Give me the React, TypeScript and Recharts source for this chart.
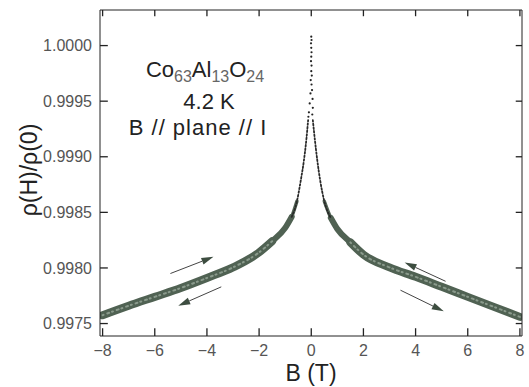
import {
  ComposedChart,
  Line,
  Scatter,
  XAxis,
  YAxis,
  ReferenceLine,
} from "recharts";

const X_TICKS = [-8, -6, -4, -2, 0, 2, 4, 6, 8];
const Y_TICKS = [0.9975, 0.998, 0.9985, 0.999, 0.9995, 1.0];
const X_DOMAIN = [-8.1, 8.08];
const Y_DOMAIN = [0.997388, 1.00032];
// inward tick length in data units (about 8 px on each axis)
const X_TICK_LEN = 0.3;
const Y_TICK_LEN = 0.00007;

const leftBranch = [
  { b: -8.0, r: 0.997575 },
  { b: -7.0, r: 0.99766 },
  { b: -6.0, r: 0.99774 },
  { b: -5.0, r: 0.99782 },
  { b: -4.0, r: 0.99791 },
  { b: -3.0, r: 0.998005 },
  { b: -2.0, r: 0.99814 },
  { b: -1.5, r: 0.99824 },
  { b: -1.0, r: 0.99836 },
  { b: -0.75, r: 0.99846 },
  { b: -0.55, r: 0.9986 },
  { b: -0.4, r: 0.99879 },
  { b: -0.28, r: 0.99897 },
  { b: -0.19, r: 0.99915 },
  { b: -0.12, r: 0.99933 },
];
const rightBranch = [
  { b: 0.06, r: 0.99933 },
  { b: 0.14, r: 0.99915 },
  { b: 0.23, r: 0.99897 },
  { b: 0.34, r: 0.99879 },
  { b: 0.5, r: 0.9986 },
  { b: 0.75, r: 0.99845 },
  { b: 1.0, r: 0.99835 },
  { b: 1.5, r: 0.99823 },
  { b: 2.0, r: 0.99812 },
  { b: 3.0, r: 0.998005 },
  { b: 4.0, r: 0.99792 },
  { b: 5.0, r: 0.99783 },
  { b: 6.0, r: 0.99774 },
  { b: 7.0, r: 0.99765 },
  { b: 8.0, r: 0.99756 },
];

// sparse points at the cusp
const cuspDots = [
  { b: 0.0, r: 1.00008 },
  { b: 0.01, r: 1.00005 },
  { b: -0.01, r: 1.00002 },
  { b: 0.0, r: 0.99998 },
  { b: 0.01, r: 0.99994 },
  { b: 0.0, r: 0.9999 },
  { b: -0.01, r: 0.99986 },
  { b: 0.01, r: 0.99982 },
  { b: 0.0, r: 0.99977 },
  { b: 0.02, r: 0.99973 },
  { b: -0.02, r: 0.99969 },
  { b: 0.01, r: 0.99965 },
  { b: 0.03, r: 0.9996 },
  { b: -0.03, r: 0.99957 },
  { b: 0.05, r: 0.99952 },
  { b: -0.06, r: 0.99948 },
  { b: 0.06, r: 0.99944 },
  { b: -0.09, r: 0.9994 },
  { b: 0.04, r: 0.99938 },
  { b: -0.11, r: 0.99936 },
];

// sweep direction arrows: [from, to]
const arrows = [
  [{ b: -5.4, r: 0.99795 }, { b: -3.75, r: 0.9981 }],
  [{ b: -3.45, r: 0.99783 }, { b: -5.1, r: 0.99766 }],
  [{ b: 5.15, r: 0.99788 }, { b: 3.58, r: 0.99805 }],
  [{ b: 3.42, r: 0.9978 }, { b: 5.08, r: 0.99761 }],
];

const FONT = "'Liberation Sans', Arial, sans-serif";
const AXIS = "#222";
const BAND = "#506253";
const TICK_STYLE = { fill: "#555", fontSize: 16, fontFamily: FONT };

type Pt = { b: number; r: number };
const within = (d: Pt[], lo: number, hi: number) =>
  d.filter((p) => Math.abs(p.b) >= lo && Math.abs(p.b) <= hi);

const fmtX = (v: number) => `${v}`.replace("-", "\u2212");

// two-point segments for the inward tick marks on all four frame sides
const tickSegments: Pt[][] = [
  ...X_TICKS.map((t) => [
    { b: t, r: Y_DOMAIN[0] },
    { b: t, r: Y_DOMAIN[0] + Y_TICK_LEN },
  ]),
  ...X_TICKS.map((t) => [
    { b: t, r: Y_DOMAIN[1] },
    { b: t, r: Y_DOMAIN[1] - Y_TICK_LEN * 0.8 },
  ]),
  ...Y_TICKS.map((t) => [
    { b: X_DOMAIN[0], r: t },
    { b: X_DOMAIN[0] + X_TICK_LEN, r: t },
  ]),
  ...Y_TICKS.map((t) => [
    { b: X_DOMAIN[1] - X_TICK_LEN * 0.8, r: t },
    { b: X_DOMAIN[1], r: t },
  ]),
];

function Arrow(props: any) {
  const { x1, y1, x2, y2 } = props;
  if (x1 == null) return null;
  const ang = Math.atan2(y2 - y1, x2 - x1);
  const len = 12;
  const w = 3.5;
  const bx = x2 - len * Math.cos(ang);
  const by = y2 - len * Math.sin(ang);
  const px = -Math.sin(ang) * w;
  const py = Math.cos(ang) * w;
  return (
    <g>
      <line x1={x1} y1={y1} x2={bx} y2={by} stroke="#444" strokeWidth={1} />
      <polygon
        points={`${x2},${y2} ${bx + px},${by + py} ${bx - px},${by - py}`}
        fill="#3d4d40"
      />
    </g>
  );
}

function seg(
  data: Pt[],
  key: string,
  stroke: string,
  width: number,
  dash?: string,
  kind: "monotone" | "linear" = "monotone",
) {
  return (
    <Line
      key={key}
      xAxisId="bottom"
      yAxisId="left"
      data={data}
      dataKey="r"
      type={kind}
      stroke={stroke}
      strokeWidth={width}
      strokeLinecap={kind === "linear" ? "butt" : "round"}
      strokeDasharray={dash}
      dot={false}
      activeDot={false}
      isAnimationActive={false}
    />
  );
}

export default function App() {
  return (
    <div style={{ position: "absolute", left: 0, top: 0, background: "#fff" }}>
      <ComposedChart
        width={529}
        height={387}
        margin={{ top: 9, right: 6, bottom: 0, left: 0 }}
      >
        <XAxis
          xAxisId="bottom"
          dataKey="b"
          type="number"
          domain={X_DOMAIN}
          ticks={X_TICKS}
          tickFormatter={fmtX}
          allowDataOverflow
          interval={0}
          height={51}
          tickLine={false}
          tickSize={0}
          tickMargin={9}
          stroke={AXIS}
          tick={TICK_STYLE}
        />
        <XAxis
          xAxisId="top"
          orientation="top"
          dataKey="b"
          type="number"
          domain={X_DOMAIN}
          allowDataOverflow
          height={1}
          tick={false}
          tickLine={false}
          stroke={AXIS}
        />
        <YAxis
          yAxisId="left"
          dataKey="r"
          type="number"
          domain={Y_DOMAIN}
          ticks={Y_TICKS}
          tickFormatter={(v: number) => v.toFixed(4)}
          allowDataOverflow
          interval={0}
          width={100}
          tickLine={false}
          tickSize={0}
          tickMargin={8}
          stroke={AXIS}
          tick={TICK_STYLE}
        />
        <YAxis
          yAxisId="right"
          orientation="right"
          dataKey="r"
          type="number"
          domain={Y_DOMAIN}
          allowDataOverflow
          width={1}
          tick={false}
          tickLine={false}
          stroke={AXIS}
        />

        {tickSegments.map((s, i) => seg(s, `tk${i}`, AXIS, 1.3, undefined, "linear"))}

        {seg(within(leftBranch, 1.5, 9), "lo", BAND, 8)}
        {seg(within(rightBranch, 1.5, 9), "ro", BAND, 8)}
        {seg(within(leftBranch, 0.75, 2), "lm", BAND, 6)}
        {seg(within(rightBranch, 0.75, 2), "rm", BAND, 6)}
        {seg(within(leftBranch, 0.55, 1), "ln", BAND, 3.5)}
        {seg(within(rightBranch, 0.5, 1), "rn", BAND, 3.5)}
        {seg(within(leftBranch, 1.5, 9), "so", "#8a9a8c", 2, "1 4 2 3")}
        {seg(within(rightBranch, 1.5, 9), "sr", "#8a9a8c", 2, "1 4 2 3")}
        {seg(within(leftBranch, 0, 0.75), "lc", "#2a2a2a", 1.8, "1.6 2")}
        {seg(within(rightBranch, 0, 0.75), "rc", "#2a2a2a", 1.8, "1.6 2")}
        <Scatter
          xAxisId="bottom"
          yAxisId="left"
          data={cuspDots}
          fill="#222"
          shape={(p: any) => <circle cx={p.cx} cy={p.cy} r={1.1} fill="#222" />}
          isAnimationActive={false}
        />

        {arrows.map((a, i) => (
          <ReferenceLine
            key={`ar${i}`}
            xAxisId="bottom"
            yAxisId="left"
            segment={[
              { x: a[0].b, y: a[0].r },
              { x: a[1].b, y: a[1].r },
            ]}
            shape={Arrow}
          />
        ))}

        <text
          x={37}
          y={170}
          transform="rotate(-90, 37, 170)"
          textAnchor="middle"
          fontSize={23}
          fontFamily={FONT}
          fill="#222"
        >
          {"\u03c1(H)/\u03c1(0)"}
        </text>
        <text x={311} y={381} textAnchor="middle" fontSize={23} fontFamily={FONT} fill="#222">
          B (T)
        </text>

        <text x={205} y={77} textAnchor="middle" fontSize={22} fontFamily={FONT} fill="#222">
          Co
          <tspan fontSize={16} dy={5} fill="#666">63</tspan>
          <tspan dy={-5}>Al</tspan>
          <tspan fontSize={16} dy={5} fill="#666">13</tspan>
          <tspan dy={-5}>O</tspan>
          <tspan fontSize={16} dy={5} fill="#666">24</tspan>
        </text>
        <text x={209} y={109} textAnchor="middle" fontSize={22} fontFamily={FONT} fill="#222">
          4.2 K
        </text>
        <text
          x={198}
          y={135}
          textAnchor="middle"
          fontSize={22}
          letterSpacing={1}
          fontFamily={FONT}
          fill="#222"
        >
          B // plane // I
        </text>
      </ComposedChart>
    </div>
  );
}
